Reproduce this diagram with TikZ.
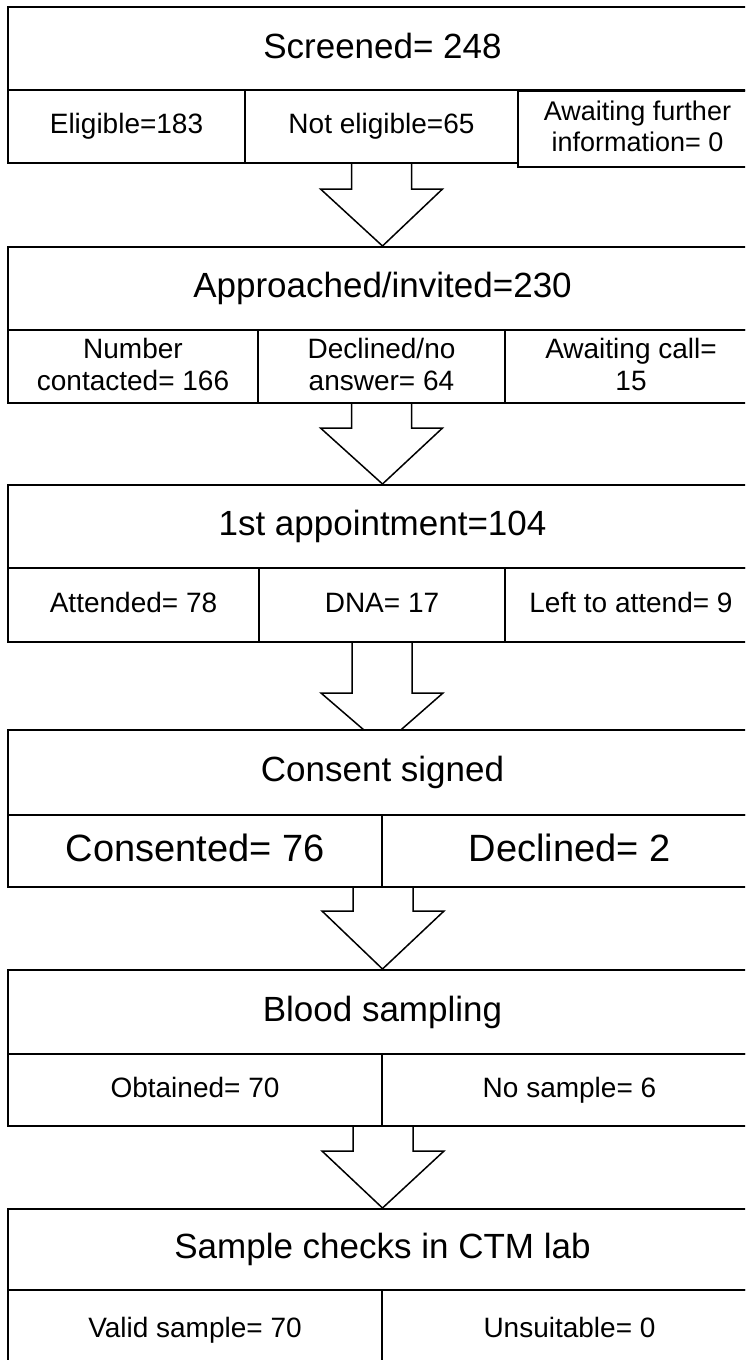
\documentclass[tikz,border=0pt]{standalone}
\usepackage{fontspec}
\setmainfont{Liberation Sans}
\usetikzlibrary{calc,backgrounds}

\begin{document}
\begin{tikzpicture}[x=1pt,y=-1pt,
  otsake/.style={draw,line width=2pt,fill=white,inner sep=0pt,font=\fontsize{35}{40}\selectfont,
    execute at begin node=\tuki},
  solu/.style={draw,line width=2pt,fill=white,inner sep=0pt,align=center,font=\fontsize{28}{32}\selectfont,
    execute at begin node=\tuki,execute at end node=\tuki},
  nuolet/.style={draw,line width=1.5pt,fill=white,line join=miter}]
\newcommand\tuki{\rule[-0.18em]{0pt}{0.9em}}
\newcommand\nuoli[4][0]{
\path (#2) coordinate (s) ($(#3)+(0,#1)$) coordinate (t);
\begin{scope}[on background layer]
\draw[nuolet] ($(s)+(-30,0)$) -- ++(0,#4) -- ++(-31,0) -- (t) -- ($(s)+(61,#4)$) -- ++(-31,0) -- ++(0,-#4);
\end{scope}
}
\useasboundingbox (0,0) rectangle (745,1360);
\clip (0,0) rectangle (745,1360);
% screening
\node[otsake,minimum width=749pt,minimum height=83pt] (seul) at (382.5,48.5) {Screened= 248};
\node[solu,minimum width=237pt,minimum height=73pt] (kelp) at (126.5,126.5) {Eligible=183};
\node[solu,minimum width=273pt,minimum height=73pt] (eikelp) at (381.5,126.5) {Not eligible=65};
\node[solu,minimum width=239pt,minimum height=76pt,font=\fontsize{27}{31}\selectfont] (odot) at (637.5,129) {Awaiting further\\information= 0};
% invitations
\node[otsake,minimum width=749pt,minimum height=83pt] (kutsu) at (382.5,288.5) {Approached/invited=230};
\node[solu,minimum width=250pt,minimum height=73pt] (yhteys) at (133,366.5) {Number\\contacted= 166};
\node[solu,minimum width=247pt,minimum height=73pt] (kiel) at (381.5,366.5) {Declined/no\\answer= 64};
\node[solu,minimum width=252pt,minimum height=73pt] (soitto) at (631,366.5) {Awaiting call=\\15};
% appointment
\node[otsake,minimum width=749pt,minimum height=83pt] (kaynti) at (382.5,526.5) {1st appointment=104};
\node[solu,minimum width=251pt,minimum height=74pt] (saap) at (133.5,605) {Attended= 78};
\node[solu,minimum width=246pt,minimum height=74pt] (dna) at (382,605) {DNA= 17};
\node[solu,minimum width=252pt,minimum height=74pt] (jaljella) at (631,605) {Left to attend= 9};
% consent
\node[otsake,minimum width=749pt,minimum height=85pt] (suostumus) at (382.5,772.5) {Consent signed};
\node[solu,minimum width=374pt,minimum height=72pt,font=\fontsize{38}{42}\selectfont] (suost) at (195,851) {Consented= 76};
\node[solu,minimum width=375pt,minimum height=72pt,font=\fontsize{38}{42}\selectfont] (kielt) at (569.5,851) {Declined= 2};
% blood
\node[otsake,minimum width=749pt,minimum height=84pt] (veri) at (382.5,1012) {Blood sampling};
\node[solu,minimum width=374pt,minimum height=72pt] (saatu) at (195,1090) {Obtained= 70};
\node[solu,minimum width=375pt,minimum height=72pt] (eina) at (569.5,1090) {No sample= 6};
% lab
\node[otsake,minimum width=749pt,minimum height=81pt] (lab) at (382.5,1249.5) {Sample checks in CTM lab};
\node[solu,minimum width=374pt,minimum height=80pt] (kelpo) at (195,1330) {Valid sample= 70};
\node[solu,minimum width=375pt,minimum height=80pt] (sopim) at (569.5,1330) {Unsuitable= 0};
\nuoli{eikelp.south}{kutsu.north}{25}
\nuoli{kiel.south}{kaynti.north}{24}
\nuoli[17]{dna.south}{suostumus.north}{50}
\nuoli{suost.south east}{veri.north}{23}
\nuoli{saatu.south east}{lab.north}{24}
\end{tikzpicture}
\end{document}
